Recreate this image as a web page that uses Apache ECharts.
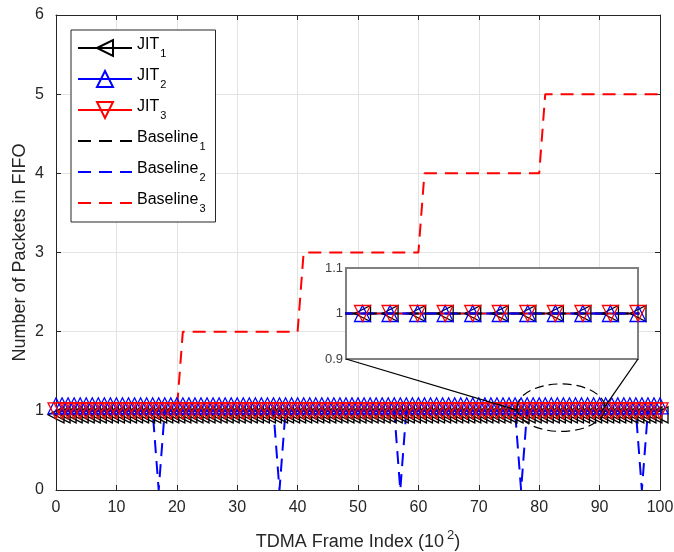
<!DOCTYPE html>
<html><head><meta charset="utf-8">
<script src="https://cdn.jsdelivr.net/npm/echarts@6/dist/echarts.min.js"></script>
<style>html,body{margin:0;padding:0;background:#fff}#c{width:674px;height:552px}</style>
</head><body><div id="c"></div>
<script>
// ---------- data ----------
const frameIndex = [
  0,1,2,3,4,5,6,7,8,9,
  10,11,12,13,14,15,16,17,18,19,
  20,21,22,23,24,25,26,27,28,29,
  30,31,32,33,34,35,36,37,38,39,
  40,41,42,43,44,45,46,47,48,49,
  50,51,52,53,54,55,56,57,58,59,
  60,61,62,63,64,65,66,67,68,69,
  70,71,72,73,74,75,76,77,78,79,
  80,81,82,83,84,85,86,87,88,89,
  90,91,92,93,94,95,96,97,98,99,
  100];
const jit1 = [
  1,1,1,1,1,1,1,1,1,1, 1,1,1,1,1,1,1,1,1,1, 1,1,1,1,1,1,1,1,1,1,
  1,1,1,1,1,1,1,1,1,1, 1,1,1,1,1,1,1,1,1,1, 1,1,1,1,1,1,1,1,1,1,
  1,1,1,1,1,1,1,1,1,1, 1,1,1,1,1,1,1,1,1,1, 1,1,1,1,1,1,1,1,1,1,
  1,1,1,1,1,1,1,1,1,1, 1];
const jit2 = [
  1,1,1,1,1,1,1,1,1,1, 1,1,1,1,1,1,1,1,1,1, 1,1,1,1,1,1,1,1,1,1,
  1,1,1,1,1,1,1,1,1,1, 1,1,1,1,1,1,1,1,1,1, 1,1,1,1,1,1,1,1,1,1,
  1,1,1,1,1,1,1,1,1,1, 1,1,1,1,1,1,1,1,1,1, 1,1,1,1,1,1,1,1,1,1,
  1,1,1,1,1,1,1,1,1,1, 1];
const jit3 = [
  1,1,1,1,1,1,1,1,1,1, 1,1,1,1,1,1,1,1,1,1, 1,1,1,1,1,1,1,1,1,1,
  1,1,1,1,1,1,1,1,1,1, 1,1,1,1,1,1,1,1,1,1, 1,1,1,1,1,1,1,1,1,1,
  1,1,1,1,1,1,1,1,1,1, 1,1,1,1,1,1,1,1,1,1, 1,1,1,1,1,1,1,1,1,1,
  1,1,1,1,1,1,1,1,1,1, 1];
const baseline1 = [
  1,1,1,1,1,1,1,1,1,1, 1,1,1,1,1,1,1,1,1,1, 1,1,1,1,1,1,1,1,1,1,
  1,1,1,1,1,1,1,1,1,1, 1,1,1,1,1,1,1,1,1,1, 1,1,1,1,1,1,1,1,1,1,
  1,1,1,1,1,1,1,1,1,1, 1,1,1,1,1,1,1,1,1,1, 1,1,1,1,1,1,1,1,1,1,
  1,1,1,1,1,1,1,1,1,1, 1];
const baseline2 = [
  1,1,1,1,1,1,1,1,1,1,
  1,1,1,1,1,1,1,0,1,1,
  1,1,1,1,1,1,1,1,1,1,
  1,1,1,1,1,1,1,0,1,1,
  1,1,1,1,1,1,1,1,1,1,
  1,1,1,1,1,1,1,0,1,1,
  1,1,1,1,1,1,1,1,1,1,
  1,1,1,1,1,1,1,0,1,1,
  1,1,1,1,1,1,1,1,1,1,
  1,1,1,1,1,1,1,0,1,1,
  1];
const baseline3 = [
  1,1,1,1,1,1,1,1,1,1,
  1,1,1,1,1,1,1,1,1,1,
  1,2,2,2,2,2,2,2,2,2,
  2,2,2,2,2,2,2,2,2,2,
  2,3,3,3,3,3,3,3,3,3,
  3,3,3,3,3,3,3,3,3,3,
  3,4,4,4,4,4,4,4,4,4,
  4,4,4,4,4,4,4,4,4,4,
  4,5,5,5,5,5,5,5,5,5,
  5,5,5,5,5,5,5,5,5,5,
  5];
const seriesNames = ['JIT1','JIT2','JIT3','Baseline1','Baseline2','Baseline3'];
const legendBase = {JIT1:['JIT','1'],JIT2:['JIT','2'],JIT3:['JIT','3'],Baseline1:['Baseline','1'],Baseline2:['Baseline','2'],Baseline3:['Baseline','3']};
const inset = {xMin:79.4, xMax:90, yMin:0.9, yMax:1.1, yStep:0.1, gridX:[80,85]};
const zoomEllipse = {cx:83.6, cy:1.04, rx:7.3, ry:0.3};
const connectorEnds = [[76.3,1.01],[90.3,0.99]];

// ---------- chart ----------
const FONT = '"Liberation Sans", Arial, Helvetica, sans-serif';
const AX = '#262626';
const chart = echarts.init(document.getElementById('c'), null, {renderer:'canvas'});
const pts = arr => frameIndex.map((x,i)=>[x,arr[i]]);

function jitSeries(name, arr, color, rot, xi, yi, z, offY){
  return {name, type:'line', xAxisIndex:xi, yAxisIndex:yi, data:pts(arr), z,
    symbol:'triangle', symbolSize:16, symbolRotate:rot, symbolOffset:[0, offY], showAllSymbol:true, clip:true,
    lineStyle:{color, width:1.5}, itemStyle:{color:'none', borderColor:color, borderWidth:1.3},
    emphasis:{disabled:true}, silent:true, animation:false};
}
function baseSeries(name, arr, color, xi, yi, z){
  return {name, type:'line', xAxisIndex:xi, yAxisIndex:yi, data:pts(arr), z,
    symbol:'rect', showSymbol:false, clip:true,
    itemStyle:{color:'none', borderColor:'none', borderWidth:0},
    lineStyle:{color, width:2, type:[13,8]},
    emphasis:{disabled:true}, silent:true, animation:false};
}
function allSeries(xi, yi, z, offs){
  return [
    jitSeries('JIT1', jit1, '#000000', 90, xi, yi, z, offs[0]),
    jitSeries('JIT2', jit2, '#0000ff', 0, xi, yi, z, offs[1]),
    jitSeries('JIT3', jit3, '#ff0000', 180, xi, yi, z, offs[2]),
    baseSeries('Baseline1', baseline1, '#000000', xi, yi, z),
    baseSeries('Baseline2', baseline2, '#0000ff', xi, yi, z),
    baseSeries('Baseline3', baseline3, '#ff0000', xi, yi, z)
  ];
}

const option = {
  animation:false,
  backgroundColor:'#ffffff',
  textStyle:{fontFamily:FONT},
  grid:[
    {left:56, right:14, top:15, bottom:62, show:false, containLabel:false, outerBoundsMode:'none'},
    {left:346, right:36, top:268, bottom:193, show:true, containLabel:false, outerBoundsMode:'none',
     backgroundColor:'#ffffff', borderColor:'#808080', borderWidth:2, z:10}
  ],
  legend:{
    data:seriesNames, orient:'vertical', left:71, top:30,
    backgroundColor:'#ffffff', borderColor:AX, borderWidth:1,
    padding:[7,10,8,6], itemWidth:54, itemHeight:20, itemGap:9,
    selectedMode:false, z:20,
    formatter: n => '{b|' + legendBase[n][0] + '}{s|' + legendBase[n][1] + '}',
    textStyle:{fontFamily:FONT, color:'#000', rich:{
      b:{fontSize:16, fontFamily:FONT, color:'#000', verticalAlign:'top'},
      s:{fontSize:11, fontFamily:FONT, color:'#000', verticalAlign:'top', padding:[11,0,0,1]}
    }}
  },
  xAxis:[
    {type:'value', gridIndex:0, min:0, max:100, interval:10, position:'bottom',
     axisLine:{onZero:false, lineStyle:{color:AX, width:1}},
     axisTick:{inside:true, length:5, lineStyle:{color:AX}},
     axisLabel:{fontSize:16, color:AX, margin:10, fontFamily:FONT},
     splitLine:{show:true, lineStyle:{color:'#e3e3e3', width:1}},
     name:'{n|TDMA Frame Index (10}{s|2}{n|)}', nameLocation:'middle', nameGap:39,
     nameTextStyle:{rich:{
       n:{fontSize:18, color:AX, fontFamily:FONT, verticalAlign:'bottom'},
       s:{fontSize:13, color:AX, fontFamily:FONT, verticalAlign:'bottom', padding:[0,0,9,3]}
     }}},
    {type:'value', gridIndex:0, min:0, max:100, interval:10, position:'top',
     axisLine:{onZero:false, lineStyle:{color:AX, width:1}},
     axisTick:{inside:true, length:5, lineStyle:{color:AX}},
     axisLabel:{show:false}, splitLine:{show:false}},
    {type:'value', gridIndex:1, min:inset.xMin, max:inset.xMax, show:false, z:10}
  ],
  yAxis:[
    {type:'value', gridIndex:0, min:0, max:6, interval:1, position:'left',
     axisLine:{show:true, onZero:false, lineStyle:{color:AX, width:1}},
     axisTick:{show:true, inside:true, length:5, lineStyle:{color:AX}},
     axisLabel:{fontSize:16, color:AX, margin:12, fontFamily:FONT},
     splitLine:{show:true, lineStyle:{color:'#e3e3e3', width:1}},
     name:'Number of Packets in FIFO', nameLocation:'middle', nameGap:27, nameMoveOverlap:false,
     nameTextStyle:{fontSize:18, color:AX, fontFamily:FONT}},
    {type:'value', gridIndex:0, min:0, max:6, interval:1, position:'right',
     axisLine:{show:true, onZero:false, lineStyle:{color:AX, width:1}},
     axisTick:{show:true, inside:true, length:5, lineStyle:{color:AX}},
     axisLabel:{show:false}, splitLine:{show:false}},
    {type:'value', gridIndex:1, min:inset.yMin, max:inset.yMax, interval:inset.yStep, z:10,
     axisLine:{show:false}, axisTick:{show:false}, splitLine:{show:false},
     axisLabel:{fontSize:13, color:'#404040', margin:3, fontFamily:FONT}}
  ],
  series: [
    ...allSeries(0, 0, 2, [4, -5, 0]),
    {type:'line', name:'insetGrid', xAxisIndex:2, yAxisIndex:2, data:[], z:10.5, silent:true,
     markLine:{silent:true, symbol:['none','none'], label:{show:false},
       lineStyle:{color:'#8a8a8a', width:1.5, type:'solid'},
       data: inset.gridX.map(v=>({xAxis:v}))}},
    ...allSeries(2, 2, 11, [0, 0, 0])
  ]
};
chart.setOption(option);

// zoom annotation: ellipse + connector lines (positions from data coords)
const toMain = v => chart.convertToPixel({xAxisIndex:0, yAxisIndex:0}, v);
const toInset = v => chart.convertToPixel({xAxisIndex:2, yAxisIndex:2}, v);
const c = toMain([zoomEllipse.cx, zoomEllipse.cy]);
const rx = Math.abs(toMain([zoomEllipse.cx + zoomEllipse.rx, zoomEllipse.cy])[0] - c[0]);
const ry = Math.abs(toMain([zoomEllipse.cx, zoomEllipse.cy + zoomEllipse.ry])[1] - c[1]);
const bl = toInset([inset.xMin, inset.yMin]);
const br = toInset([inset.xMax, inset.yMin]);
const e1 = toMain(connectorEnds[0]);
const e2 = toMain(connectorEnds[1]);
chart.setOption({graphic:[
  {type:'ellipse', z:30, silent:true, shape:{cx:c[0], cy:c[1], rx, ry},
   style:{fill:'none', stroke:'#000', lineWidth:1.2, lineDash:[9,5]}},
  {type:'line', z:30, silent:true, shape:{x1:bl[0], y1:bl[1], x2:e1[0], y2:e1[1]}, style:{stroke:'#000', lineWidth:1.3}},
  {type:'line', z:30, silent:true, shape:{x1:br[0], y1:br[1], x2:e2[0], y2:e2[1]}, style:{stroke:'#000', lineWidth:1.3}}
]});
</script>
</body></html>
